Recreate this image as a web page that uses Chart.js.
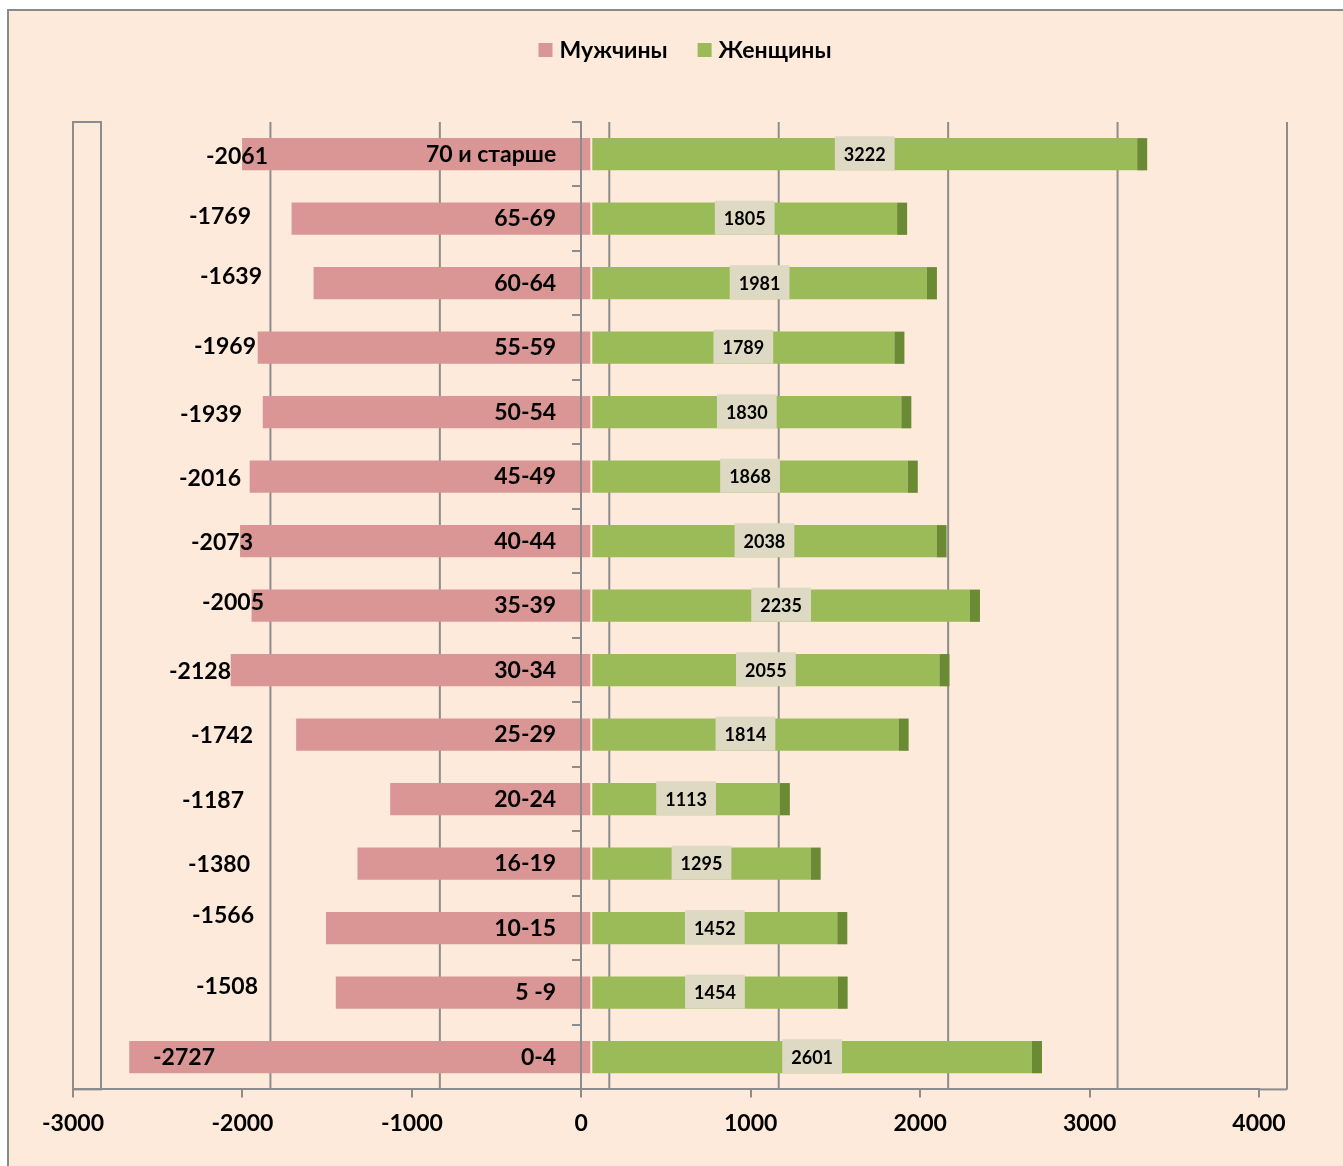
<!DOCTYPE html>
<html>
<head>
<meta charset="utf-8">
<title>Население по полу и возрасту</title>
<script src="https://cdn.jsdelivr.net/npm/chart.js@4"></script>
<style>
  html, body { margin: 0; padding: 0; background: #fff; }
  #wrap { width: 1343px; height: 1166px; }
</style>
</head>
<body>
<div id="wrap"><canvas id="pyramid" width="1343" height="1166"></canvas></div>
<script>
// data
const ageGroups = ['70 и старше', '65-69', '60-64', '55-59', '50-54', '45-49', '40-44', '35-39',
                   '30-34', '25-29', '20-24', '16-19', '10-15', '5 -9', '0-4'];
const menCounts = [-2061, -1769, -1639, -1969, -1939, -2016, -2073, -2005, -2128, -1742, -1187, -1380, -1566, -1508, -2727];
const womenCounts = [3222, 1805, 1981, 1789, 1830, 1868, 2038, 2235, 2055, 1814, 1113, 1295, 1452, 1454, 2601];
const xTicks = [-3000, -2000, -1000, 0, 1000, 2000, 3000, 4000];

// the men's labels were dragged around by hand in the original, [dx, dy] in px
const menLabelNudge = [[20, 1], [3, -3], [14, -8], [8, -2], [-6, 1], [-7, 1], [5, 1], [16, -4],
                       [-17, 1], [5, 0], [-4, 1], [2, 0], [6, -13], [10, -7], [-33, 0]];

const FONT = 'Lato, "Open Sans", sans-serif';
const GRID = '#8c8c8c';
const BG = '#FDEADA';
const PINK = '#D99694';
const GREEN = '#9BBB59';
const GREEN_DARK = '#6A8A34';
const TAG = '#DDD9C3';
const SHIFT = 10;   // bars sit a bit right of the front axis (3d look)
const DEPTH = 28;   // back wall offset

Chart.defaults.font.family = FONT;
Chart.defaults.color = '#000';

const backdrop = {
    id: 'backdrop',
    beforeDraw(chart) {
        const ctx = chart.ctx;
        const w = chart.width, h = chart.height;
        ctx.save();
        ctx.fillStyle = '#fff';
        ctx.fillRect(0, 0, w, h);
        ctx.fillStyle = BG;
        ctx.fillRect(8, 10, w, h);
        ctx.strokeStyle = '#8a8a8a';
        ctx.lineWidth = 2;
        ctx.strokeRect(8, 10, w + 10, h + 10);
        ctx.restore();
    }
};

const wall = {
    id: 'wall',
    beforeDatasetsDraw(chart) {
        const ctx = chart.ctx;
        const area = chart.chartArea;
        const xs = chart.scales.x;
        ctx.save();
        ctx.strokeStyle = GRID;
        ctx.lineWidth = 2;
        // side wall on the left
        ctx.strokeRect(area.left, area.top, xs.getPixelForValue(xTicks[0]) + DEPTH - area.left, area.bottom - area.top);
        // back wall grid lines
        xTicks.forEach(v => {
            const px = xs.getPixelForValue(v) + DEPTH;
            ctx.beginPath();
            ctx.moveTo(px, area.top);
            ctx.lineTo(px, area.bottom);
            ctx.stroke();
        });
        // floor continues to the last back line
        ctx.beginPath();
        ctx.moveTo(area.right - 1, area.bottom);
        ctx.lineTo(xs.getPixelForValue(xTicks[xTicks.length - 1]) + DEPTH, area.bottom);
        ctx.stroke();
        ctx.restore();

        // push the bars right
        ctx.save();
        ctx.translate(SHIFT, 0);
    },
    afterDatasetsDraw(chart) {
        const ctx = chart.ctx;
        // dark end face on the women's bars
        const womenMeta = chart.getDatasetMeta(1);
        ctx.fillStyle = GREEN_DARK;
        womenMeta.data.forEach(bar => {
            ctx.fillRect(bar.x, bar.y - bar.height / 2, 10, bar.height);
        });
        ctx.restore();

        // men's values
        const xs = chart.scales.x;
        const menMeta = chart.getDatasetMeta(0);
        ctx.save();
        ctx.fillStyle = '#000';
        ctx.textAlign = 'center';
        ctx.textBaseline = 'alphabetic';
        ctx.font = 'bold 23px ' + FONT;
        menMeta.data.forEach((bar, i) => {
            const x = xs.getPixelForValue(-2150) + menLabelNudge[i][0];
            const y = bar.y + menLabelNudge[i][1] + 23 * 0.36;
            ctx.fillText(String(menCounts[i]), x, y);
        });

        // women's values in tan boxes at the middle of the bar
        ctx.font = 'bold 18px ' + FONT;
        womenMeta.data.forEach((bar, i) => {
            const txt = String(womenCounts[i]);
            const cx = (bar.base + bar.x) / 2 + SHIFT;
            const tw = ctx.measureText(txt).width + 18;
            ctx.fillStyle = TAG;
            ctx.fillRect(cx - tw / 2, bar.y - 18, tw, 34);
            ctx.fillStyle = '#000';
            ctx.fillText(txt, cx, bar.y + 18 * 0.36);
        });
        ctx.restore();
    },
    afterDraw(chart) {
        // legend, drawn by hand to sit where the original had it
        const ctx = chart.ctx;
        const sets = chart.data.datasets;
        ctx.save();
        ctx.font = 'bold 23px ' + FONT;
        const box = 14, gap = 7, between = 30;
        const widths = sets.map(ds => box + gap + ctx.measureText(ds.label).width);
        const total = widths.reduce((a, b) => a + b, 0) + between * (sets.length - 1);
        let x = 685 - total / 2;
        const cy = 50;
        ctx.textAlign = 'left';
        ctx.textBaseline = 'alphabetic';
        sets.forEach((ds, i) => {
            ctx.fillStyle = ds.backgroundColor;
            ctx.fillRect(x, cy - box / 2, box, box);
            ctx.fillStyle = '#000';
            ctx.fillText(ds.label, x + box + gap, cy + 23 * 0.36);
            x += widths[i] + between;
        });
        ctx.restore();
    }
};

new Chart(document.getElementById('pyramid'), {
    type: 'bar',
    data: {
        labels: ageGroups,
        datasets: [
            { label: 'Мужчины', data: menCounts, backgroundColor: PINK },
            { label: 'Женщины', data: womenCounts, backgroundColor: GREEN }
        ]
    },
    options: {
        indexAxis: 'y',
        responsive: false,
        animation: false,
        events: [],
        barPercentage: 0.5,
        categoryPercentage: 1.0,
        layout: { padding: { left: 73, right: 84, top: 122, bottom: 17 } },
        scales: {
            x: {
                type: 'linear',
                min: -3000,
                max: 4000,
                stacked: true,
                afterBuildTicks: scale => { scale.ticks = xTicks.map(v => ({ value: v })); },
                grid: { drawOnChartArea: false, tickLength: 8, color: GRID, lineWidth: 2 },
                border: { color: GRID, width: 2 },
                ticks: {
                    padding: 12, color: '#000', font: { size: 23, weight: 'bold' },
                    callback: v => String(v)
                }
            },
            // the vertical axis line with its tick marks, sitting at zero
            y: {
                stacked: true,
                position: { x: 0 },
                grid: { drawOnChartArea: false, tickLength: 8, color: GRID, lineWidth: 2, offset: true, z: 1 },
                border: { color: GRID, width: 2, z: 1 },
                ticks: { display: false }
            },
            // the age labels, set a little left of zero, over the bars
            ages: {
                type: 'category',
                axis: 'y',
                labels: ageGroups,
                offset: true,
                position: { x: -148 },
                grid: { display: false },
                border: { display: false },
                ticks: { color: '#000', font: { size: 23, weight: 'bold' }, z: 1 }
            }
        },
        plugins: {
            legend: { display: false },
            tooltip: { enabled: false }
        }
    },
    plugins: [backdrop, wall]
});
</script>
</body>
</html>
